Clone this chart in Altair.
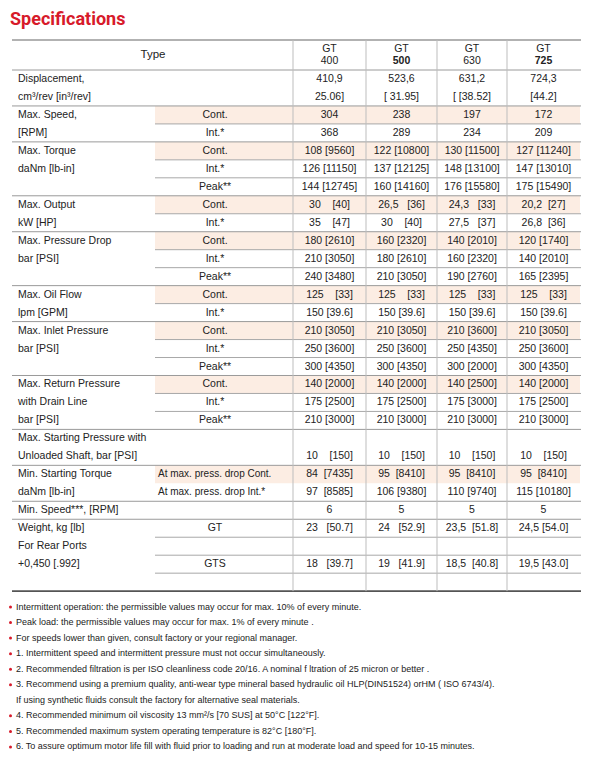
import altair as alt
import pandas as pd

# ---------------- data ----------------
title_text = "Specifications"
type_label = "Type"
model_prefix = "GT"
models = ["400", "500", "630", "725"]
model_bold = [False, True, False, True]

group_labels = [
    ["Displacement,", " cm³/rev [in³/rev]"],
    ["Max. Speed,", "[RPM]"],
    ["Max. Torque", "daNm [lb-in]"],
    ["Max. Output", "kW [HP]"],
    ["Max. Pressure Drop", "bar [PSI]"],
    ["Max. Oil Flow", "lpm [GPM]"],
    ["Max. Inlet Pressure", "bar [PSI]"],
    ["Max. Return Pressure", "with Drain Line", "bar [PSI]"],
    ["Max. Starting Pressure with", "Unloaded Shaft, bar [PSI]"],
    ["Min. Starting Torque", "daNm [lb-in]"],
    ["Min. Speed***, [RPM]"],
    ["Weight, kg [lb]", "For Rear Ports", "+0,450 [.992]"],
]

sub_labels = [
    ["", ""],
    ["Cont.", "Int.*"],
    ["Cont.", "Int.*", "Peak**"],
    ["Cont.", "Int.*"],
    ["Cont.", "Int.*", "Peak**"],
    ["Cont.", "Int.*"],
    ["Cont.", "Int.*", "Peak**"],
    ["Cont.", "Int.*", "Peak**"],
    ["", ""],
    ["At max. press. drop Cont.", "At max. press. drop Int.*"],
    [""],
    ["GT", "", "GTS", ""],
]

gt400 = ["410,9", "25.06]", "304", "368",
         "108 [9560]", "126 [11150]", "144 [12745]",
         "30    [40]", "35    [47]",
         "180 [2610]", "210 [3050]", "240 [3480]",
         "125    [33]", "150 [39.6]",
         "210 [3050]", "250 [3600]", "300 [4350]",
         "140 [2000]", "175 [2500]", "210 [3000]",
         "", "10    [150]",
         "84  [7435]", "97  [8585]",
         "6",
         "23   [50.7]", "", "18   [39.7]", ""]
gt500 = ["523,6", "[ 31.95]", "238", "289",
         "122 [10800]", "137 [12125]", "160 [14160]",
         "26,5   [36]", "30    [40]",
         "160 [2320]", "180 [2610]", "210 [3050]",
         "125    [33]", "150 [39.6]",
         "210 [3050]", "250 [3600]", "300 [4350]",
         "140 [2000]", "175 [2500]", "210 [3000]",
         "", "10    [150]",
         "95  [8410]", "106 [9380]",
         "5",
         "24   [52.9]", "", "19   [41.9]", ""]
gt630 = ["631,2", "[ [38.52]", "197", "234",
         "130 [11500]", "148 [13100]", "176 [15580]",
         "24,3   [33]", "27,5   [37]",
         "140 [2010]", "160 [2320]", "190 [2760]",
         "125    [33]", "150 [39.6]",
         "210 [3600]", "250 [4350]", "300 [2000]",
         "140 [2500]", "175 [3000]", "210 [3000]",
         "", "10    [150]",
         "95  [8410]", "110 [9740]",
         "5",
         "23,5  [51.8]", "", "18,5  [40.8]", ""]
gt725 = ["724,3", "[44.2]", "172", "209",
         "127 [11240]", "147 [13010]", "175 [15490]",
         "20,2  [27]", "26,8  [36]",
         "120 [1740]", "140 [2010]", "165 [2395]",
         "125    [33]", "150 [39.6]",
         "210 [3050]", "250 [3600]", "300 [4350]",
         "140 [2000]", "175 [2500]", "210 [3000]",
         "", "10    [150]",
         "95  [8410]", "115 [10180]",
         "5",
         "24,5 [54.0]", "", "19,5 [43.0]", ""]
model_values = [gt400, gt500, gt630, gt725]

footnotes = [
    "Intermittent operation: the permissible values may occur for max. 10% of every minute.",
    "Peak load: the permissible values may occur for max. 1% of every minute .",
    "For speeds lower than given, consult factory or your regional manager.",
    "1. Intermittent speed and intermittent pressure must not occur simultaneously.",
    "2. Recommended filtration is per ISO cleanliness code 20/16. A nominal f ltration of 25 micron or better .",
    "3. Recommend using a premium quality, anti-wear type mineral based hydraulic oil HLP(DIN51524) orHM ( ISO 6743/4).",
    "If using synthetic fluids consult the factory for alternative seal materials.",
    "4. Recommended minimum oil viscosity 13 mm²/s [70 SUS] at 50°C [122°F].",
    "5. Recommended maximum system operating temperature is 82°C [180°F].",
    "6. To assure optimum motor life fill with fluid prior to loading and run at moderate load and speed for 10-15 minutes.",
]
footnote_bullet = [True, True, True, True, True, True, False, True, True, True]

# ---------------- layout (pixel frame of the page) ----------------
W, H = 585, 747
X_LEFT, X_RIGHT = 12, 581
X_LABEL = 18
X_SUB0 = 155
X_SUB_C = 215
X_SUB_L = 158
X_TYPE = 153
COL_EDGES = [293, 366, 437, 507, 580]
Y_TOP = 40
Y_HEAD = 70
ROW_H = 17.97
FOOT_Y0 = 606.5
FOOT_DY = 15.55

RED = "#d71a2a"
TXT = "#222222"
FONT = "Liberation Sans"


def nb(s):
    return s.replace(" ", "\u00a0")


texts_l, texts_c, texts_cb, rects, rules = [], [], [], [], []

# header
texts_c.append(dict(x=X_TYPE, y=(Y_TOP + Y_HEAD) / 2, t=type_label, s=11.5))
for j, m in enumerate(models):
    cx = (COL_EDGES[j] + COL_EDGES[j + 1]) / 2
    texts_c.append(dict(x=cx, y=48.5, t=model_prefix, s=10.5))
    (texts_cb if model_bold[j] else texts_c).append(dict(x=cx, y=61, t=m, s=10.5))

rules.append(dict(x=X_LEFT, x2=X_RIGHT, y=Y_TOP, y2=Y_TOP, c="#666666", w=1.2))
rules.append(dict(x=X_LEFT, x2=X_RIGHT, y=Y_HEAD, y2=Y_HEAD, c="#9a9a9a", w=1))

r = 0
for g, (labels, subs) in enumerate(zip(group_labels, sub_labels)):
    n = len(subs)
    g_top = Y_HEAD + r * ROW_H
    for k, lab in enumerate(labels):
        texts_l.append(dict(x=X_LABEL, y=g_top + (k + 0.5) * ROW_H, t=nb(lab), s=10.5))
    has_inner = any(s for s in subs) and not subs[0].startswith("At")
    for k, sub in enumerate(subs):
        top = g_top + k * ROW_H
        cy = top + ROW_H / 2
        if "Cont." in sub:
            rects.append(dict(x=X_SUB0, x2=COL_EDGES[-1], y=top, y2=top + ROW_H))
        if sub.startswith("At"):
            texts_l.append(dict(x=X_SUB_L, y=cy, t=sub, s=10))
        elif sub:
            texts_c.append(dict(x=X_SUB_C, y=cy, t=sub, s=10.5))
        for j in range(len(models)):
            v = model_values[j][r + k]
            if v:
                cx = (COL_EDGES[j] + COL_EDGES[j + 1]) / 2
                texts_c.append(dict(x=cx, y=cy, t=nb(v), s=10.5))
        if has_inner and k > 0:
            rules.append(dict(x=X_SUB0, x2=X_RIGHT, y=top, y2=top, c="#a8a8a8", w=1))
    r += n
    g_bot = Y_HEAD + r * ROW_H
    last = g == len(group_labels) - 1
    rules.append(dict(x=X_LEFT, x2=X_RIGHT, y=g_bot, y2=g_bot,
                      c="#555555" if last else "#9a9a9a", w=1.6 if last else 1))

Y_BOTTOM = Y_HEAD + r * ROW_H
for xe in COL_EDGES[:-1]:
    rules.append(dict(x=xe, x2=xe, y=Y_TOP, y2=Y_BOTTOM, c="#bdbdbd", w=1))

foot_l, bullets = [], []
for i, (f, b) in enumerate(zip(footnotes, footnote_bullet)):
    y = FOOT_Y0 + i * FOOT_DY
    foot_l.append(dict(x=16, y=y, t=f, s=9.0))
    if b:
        bullets.append(dict(x=10.5, y=y + 0.5))

title_df = pd.DataFrame([dict(x=10, y=25, t=title_text)])

# ---------------- chart ----------------
xs = alt.Scale(domain=[8, 8 + W])
ys = alt.Scale(domain=[8, 8 + H], reverse=True)


def X(f="x"):
    return alt.X(f"{f}:Q", scale=xs, axis=None)


def Y(f="y"):
    return alt.Y(f"{f}:Q", scale=ys, axis=None)


shade = alt.Chart(pd.DataFrame(rects)).mark_rect(color="#fcede3").encode(
    x=X(), x2="x2:Q", y=Y(), y2="y2:Q")

lines = alt.Chart(pd.DataFrame(rules)).mark_rule().encode(
    x=X(), x2="x2:Q", y=Y(), y2="y2:Q",
    color=alt.Color("c:N", scale=None),
    strokeWidth=alt.StrokeWidth("w:Q", scale=None))


def text_layer(rows, align, weight="normal", color=TXT, font=FONT):
    return alt.Chart(pd.DataFrame(rows)).mark_text(
        align=align, baseline="middle", font=font, fontWeight=weight, color=color
    ).encode(x=X(), y=Y(), text="t:N", size=alt.Size("s:Q", scale=None))


left_t = text_layer(texts_l, "left")
cent_t = text_layer(texts_c, "center")
cent_b = text_layer(texts_cb, "center", weight="bold")
foot_t = text_layer(foot_l, "left")

bul = alt.Chart(pd.DataFrame(bullets)).mark_circle(color=RED, opacity=1, size=9).encode(
    x=X(), y=Y())

title = alt.Chart(title_df).mark_text(
    align="left", baseline="alphabetic", font="Roboto", fontWeight="bold", fontSize=18, color=RED
).encode(x=X(), y=Y(), text="t:N")

chart = alt.layer(shade, lines, left_t, cent_t, cent_b, foot_t, bul, title).properties(
    width=W, height=H, padding=0, autosize=alt.AutoSizeParams(type="none")
).configure_view(stroke=None)

chart.save("out.html", embed_options={"renderer": "svg", "actions": False})
